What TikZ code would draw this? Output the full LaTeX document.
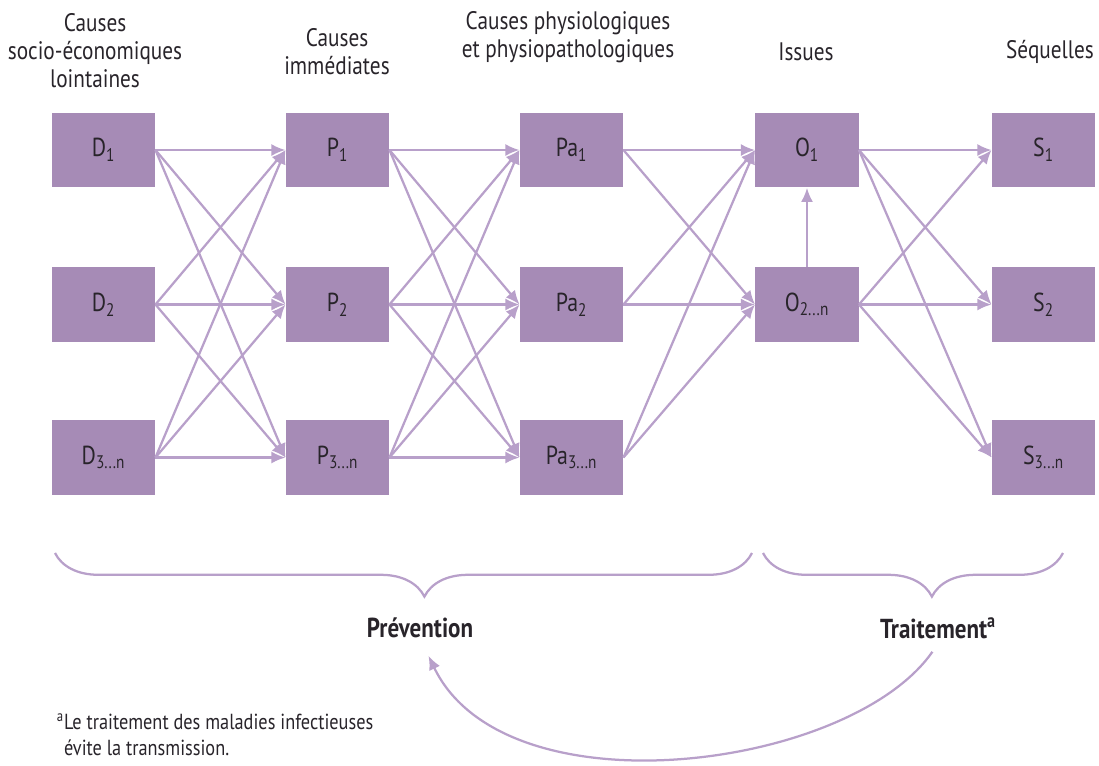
\documentclass[tikz,border=0pt]{standalone}
\usepackage{fontspec}
\setmainfont[FakeStretch=0.84]{PT Sans}
\usetikzlibrary{arrows.meta,decorations.pathreplacing}

\definecolor{boxpurple}{RGB}{166,139,182}
\definecolor{linkpurple}{RGB}{184,160,202}
\definecolor{inkdark}{RGB}{40,36,42}

\tikzset{
    box/.style={rectangle, fill=boxpurple, minimum width=73.5pt, minimum height=53.3pt,
        inner sep=0pt, text=inkdark, font=\fontsize{18.5}{21}\selectfont},
    head/.style={align=center, text=inkdark, font=\fontsize{18}{20}\selectfont},
    link/.style={draw=linkpurple, line width=1.6pt, -{Latex[length=10pt,width=8.5pt]}},
    bracket/.style={draw=linkpurple, line width=1.6pt, decorate,
        decoration={brace, mirror, amplitude=31pt}}
}

\begin{document}
\begin{tikzpicture}[x=0.025cm, y=-0.025cm]
            \useasboundingbox (0, 0) rectangle (1099, 765);

            % Headings
            \node [head] (hD) at (95, 51) {Causes\\socio-économiques\\lointaines};
            \node [head] (hP) at (337, 52) {Causes\\immédiates};
            \node [head] (hPa) at (568, 37) {Causes physiologiques\\et physiopathologiques};
            \node [head] (hO) at (806, 52) {Issues};
            \node [head] (hS) at (1050, 52) {Séquelles};

            % Column D
            \node [box] (D1) at (103.5, 150) {D\textsubscript{1}};
            \node [box] (D2) at (103.5, 304.5) {D\textsubscript{2}};
            \node [box] (D3) at (103.5, 457.5) {D\textsubscript{3...n}};

            % Column P
            \node [box] (P1) at (337.5, 150) {P\textsubscript{1}};
            \node [box] (P2) at (337.5, 304.5) {P\textsubscript{2}};
            \node [box] (P3) at (337.5, 457.5) {P\textsubscript{3...n}};

            % Column Pa
            \node [box] (Pa1) at (571.5, 150) {Pa\textsubscript{1}};
            \node [box] (Pa2) at (571.5, 304.5) {Pa\textsubscript{2}};
            \node [box] (Pa3) at (571.5, 457.5) {Pa\textsubscript{3...n}};

            % Column O
            \node [box] (O1) at (807, 150) {O\textsubscript{1}};
            \node [box] (O2) at (807, 304.5) {O\textsubscript{2...n}};

            % Column S
            \node [box] (S1) at (1043.5, 150) {S\textsubscript{1}};
            \node [box] (S2) at (1043.5, 304.5) {S\textsubscript{2}};
            \node [box] (S3) at (1043.5, 457.5) {S\textsubscript{3...n}};

            % Links
            \foreach \i in {1, 2, 3}{
                \foreach \j in {1, 2, 3}{
                    \draw [link] (D\i.east) -- (P\j.west);
                    \draw [link] (P\i.east) -- (Pa\j.west);
                }
                \foreach \j in {1, 2}{
                    \draw [link] (Pa\i.east) -- (O\j.west);
                    \draw [link] (O\j.east) -- (S\i.west);
                }
            }
            \draw [link] (O2.north) -- (O1.south);

            % Braces
            \draw [bracket, decoration={aspect=0.53}] (55, 553) -- (752, 553);
            \draw [bracket, decoration={aspect=0.563}] (763, 553) -- (1063, 553);

            \node [head, font=\fontsize{19.5}{22}\selectfont\bfseries] (prev) at (420, 628) {Prévention};
            \node [head, font=\fontsize{19.5}{22}\selectfont\bfseries] (trait) at (938, 628) {Traitement\textsuperscript{a}};

            \draw [link] ([xshift=-4pt, yshift=-6pt]trait.south) .. controls (850, 770) and (505, 815) .. ([xshift=6pt, yshift=-9pt]prev.south);

            % Footnote
            \node [anchor=west, align=left, text=inkdark, font=\fontsize{15.5}{19}\selectfont] (note) at (52, 735)
                {\textsuperscript{a}Le traitement des maladies infectieuses\\\phantom{\textsuperscript{a}}évite la transmission.};
        \end{tikzpicture}
\end{document}
